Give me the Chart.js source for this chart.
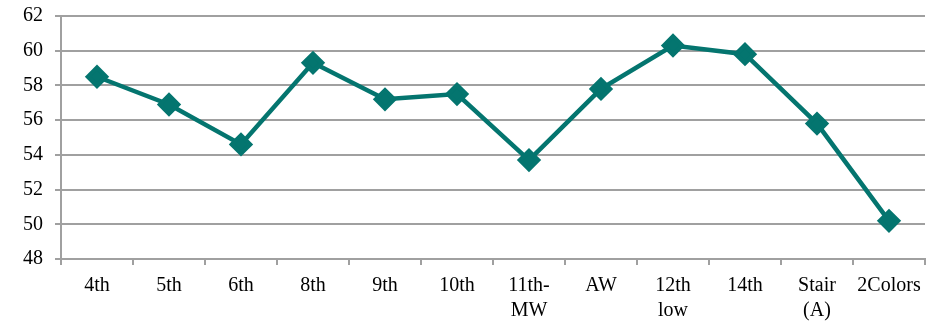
<!DOCTYPE html>
<html>
<head>
<meta charset="utf-8">
<script src="https://cdn.jsdelivr.net/npm/chart.js@4"></script>
<style>
  html, body { margin: 0; padding: 0; background: #ffffff; }
  #wrap { width: 926px; height: 321px; }
</style>
</head>
<body>
<div id="wrap"><canvas id="chart" width="926" height="321"></canvas></div>
<script>
// Category labels (multi-line where the axis wraps them)
const categories = ["4th", "5th", "6th", "8th", "9th", "10th", ["11th-", "MW"], "AW", ["12th", "low"], "14th", ["Stair", "(A)"], "2Colors"];
// Series values
const scores = [58.5, 56.9, 54.6, 59.3, 57.2, 57.5, 53.7, 57.8, 60.3, 59.8, 55.8, 50.2];
// Value axis range
const yMin = 48;
const yMax = 62;
const yStep = 2;

const teal = "#04756F";
const gridGray = "#a0a0a0";
const serif = "'Liberation Serif', 'Times New Roman', serif";

new Chart(document.getElementById("chart"), {
  type: "line",
  data: {
    labels: categories,
    datasets: [{
      data: scores,
      borderColor: teal,
      backgroundColor: teal,
      borderWidth: 4.5,
      pointStyle: "rectRot",
      pointRadius: 9,
      pointHoverRadius: 9,
      pointBackgroundColor: teal,
      pointBorderColor: teal,
      tension: 0,
      fill: false,
      clip: false
    }]
  },
  options: {
    responsive: false,
    animation: false,
    events: [],
    layout: { autoPadding: false, padding: { top: 16, right: 1, left: 0, bottom: 0 } },
    plugins: { legend: { display: false }, tooltip: { enabled: false } },
    scales: {
      x: {
        offset: true,
        grid: {
          offset: true,
          drawOnChartArea: false,
          drawTicks: true,
          tickLength: 6,
          color: gridGray,
          lineWidth: 2
        },
        border: { color: gridGray, width: 2 },
        ticks: {
          color: "#000000",
          font: { family: serif, size: 20, lineHeight: 1.25 },
          padding: 8,
          maxRotation: 0,
          autoSkip: false
        },
        afterFit: (scale) => {
          scale.height = 62;
          scale.paddingLeft = 0;
          scale.paddingRight = 0;
        }
      },
      y: {
        min: yMin,
        max: yMax,
        grid: {
          color: gridGray,
          lineWidth: 2,
          drawTicks: true,
          tickLength: 6
        },
        border: { color: gridGray, width: 2 },
        ticks: {
          stepSize: yStep,
          color: "#000000",
          font: { family: serif, size: 20, lineHeight: 1.2 },
          padding: 12
        },
        afterFit: (scale) => {
          scale.width = 61;
          scale.paddingTop = 0;
          scale.paddingBottom = 0;
        }
      }
    }
  }
});
</script>
</body>
</html>
